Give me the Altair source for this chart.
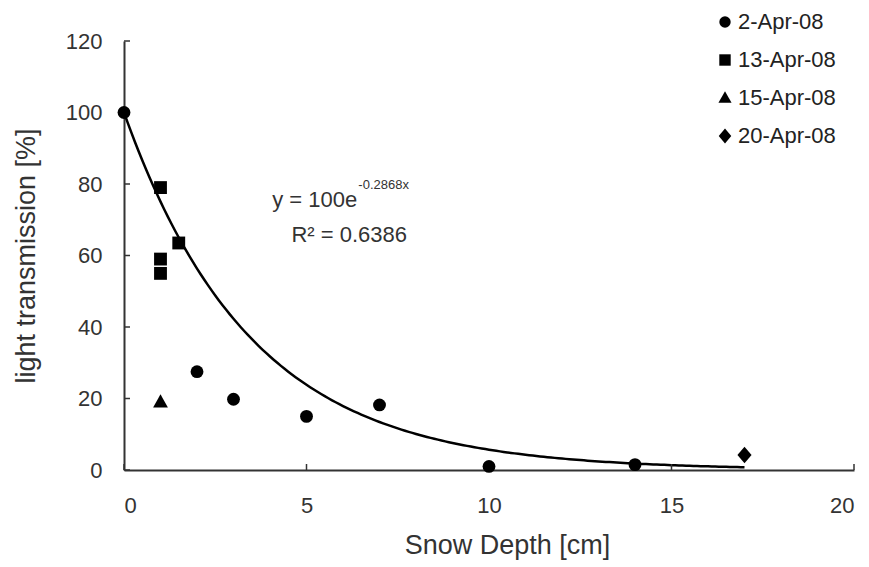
import altair as alt
import pandas as pd

# ---- data ----
series = ["2-Apr-08", "2-Apr-08", "2-Apr-08", "2-Apr-08", "2-Apr-08", "2-Apr-08", "2-Apr-08",
          "13-Apr-08", "13-Apr-08", "13-Apr-08", "13-Apr-08",
          "15-Apr-08",
          "20-Apr-08"]
depth = [0, 2, 3, 5, 7, 10, 14,
         1, 1.5, 1, 1,
         1,
         17]
transmission = [100, 27.5, 19.8, 15.0, 18.2, 1.0, 1.5,
                79.0, 63.5, 59.0, 55.0,
                19.0,
                4.2]

legend_order = ["2-Apr-08", "13-Apr-08", "15-Apr-08", "20-Apr-08"]
legend_shapes = ["circle", "square",
                 "M0,-1.2L1.15,0.85L-1.15,0.85Z",
                 "M0,-1.3L1.1,0L0,1.3L-1.1,0Z"]

fit_a = 100
fit_b = -0.2868
fit_r2 = 0.6386
fit_xmax = 17

x_ticks = [0, 5, 10, 15, 20]
y_ticks = [0, 20, 40, 60, 80, 100, 120]

FONT = "Liberation Sans"
W, H = 730, 429
TXT = "#333333"

pts = pd.DataFrame({"series": series, "depth": depth, "trans": transmission})

xs = alt.Scale(domain=[0, 20], nice=False, zero=False)
ys = alt.Scale(domain=[0, 120], nice=False)

x_axis = alt.Axis(values=x_ticks, tickSize=0, labelPadding=25, titlePadding=16,
                  labelFontSize=22, titleFontSize=27, labelFont=FONT, titleFont=FONT,
                  labelColor=TXT, titleColor=TXT, titleFontWeight="normal",
                  titleX=383, titleAlign="center",
                  domainColor=TXT, domainWidth=2, grid=False)
y_axis = alt.Axis(values=y_ticks, tickSize=0, labelPadding=22, titlePadding=25,
                  labelFontSize=22, titleFontSize=27, labelFont=FONT, titleFont=FONT,
                  labelColor=TXT, titleColor=TXT, titleFontWeight="normal",
                  domainColor=TXT, domainWidth=2, grid=False)

curve = alt.Chart(alt.sequence(0, fit_xmax + 0.001, 0.1, as_="d")).transform_calculate(
    t=f"{fit_a}*exp({fit_b}*datum.d)"
).mark_line(color="black", strokeWidth=2.5).encode(
    x=alt.X("d:Q", scale=xs, axis=x_axis, title="Snow Depth [cm]"),
    y=alt.Y("t:Q", scale=ys, axis=y_axis, title="light transmission [%]"),
)

points = alt.Chart(pts).mark_point(filled=True, color="black", opacity=1, size=165).encode(
    x=alt.X("depth:Q", scale=xs),
    y=alt.Y("trans:Q", scale=ys),
    shape=alt.Shape("series:N", sort=legend_order,
                    scale=alt.Scale(domain=legend_order, range=legend_shapes),
                    legend=alt.Legend(orient="none", legendX=590, legendY=-30, title=None,
                                      labelFontSize=22, labelFont=FONT, labelColor="#222222",
                                      symbolSize=130, symbolFillColor="black",
                                      symbolStrokeColor="black", symbolStrokeWidth=0,
                                      rowPadding=16, labelOffset=2, symbolOffset=0)),
)

xt = pd.DataFrame({"v": x_ticks})
yt = pd.DataFrame({"v": y_ticks})
xtick_marks = alt.Chart(xt).mark_rule(color=TXT, strokeWidth=1.5).encode(
    x=alt.X("v:Q", scale=xs), y=alt.value(H), y2=alt.value(H - 6))
ytick_marks = alt.Chart(yt).mark_rule(color=TXT, strokeWidth=1.5).encode(
    y=alt.Y("v:Q", scale=ys), x=alt.value(0), x2=alt.value(6))

eq_main = pd.DataFrame({"x": [6.39], "y": [75.4], "t": [f"y = {fit_a}e"]})
eq_sup = pd.DataFrame({"x": [6.42], "y": [79.8], "t": [f"{fit_b}x"]})
eq_r2 = pd.DataFrame({"x": [6.17], "y": [65.6], "t": [f"R\u00b2 = {fit_r2}"]})

t1 = alt.Chart(eq_main).mark_text(align="right", baseline="middle", fontSize=22, font=FONT,
                                  color=TXT).encode(
    x=alt.X("x:Q", scale=xs), y=alt.Y("y:Q", scale=ys), text="t:N")
t2 = alt.Chart(eq_sup).mark_text(align="left", baseline="middle", fontSize=13, font=FONT,
                                 color=TXT).encode(
    x=alt.X("x:Q", scale=xs), y=alt.Y("y:Q", scale=ys), text="t:N")
t3 = alt.Chart(eq_r2).mark_text(align="center", baseline="middle", fontSize=22, font=FONT,
                                color=TXT).encode(
    x=alt.X("x:Q", scale=xs), y=alt.Y("y:Q", scale=ys), text="t:N")

chart = alt.layer(curve, xtick_marks, ytick_marks, points, t1, t2, t3).properties(
    width=W, height=H,
    autosize=alt.AutoSizeParams(type="none"),
    padding={"left": 124, "top": 41, "right": 15, "bottom": 97},
    background="white",
).configure_view(stroke=None)

chart.save("out.html", embed_options={"renderer": "svg", "actions": False})
